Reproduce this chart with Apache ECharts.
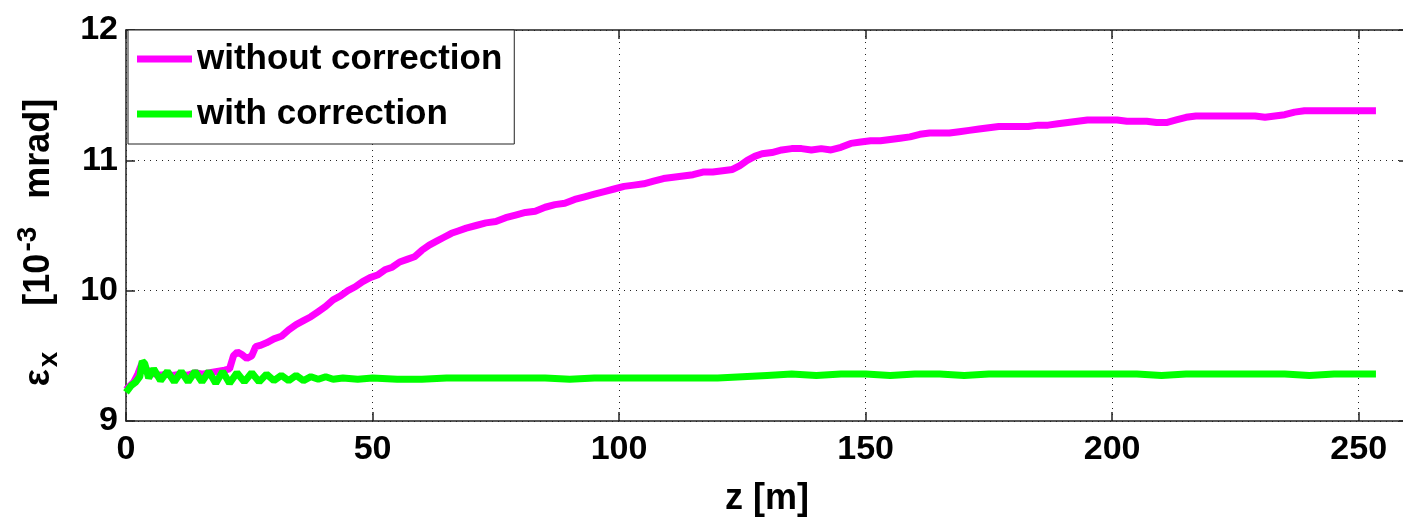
<!DOCTYPE html>
<html>
<head>
<meta charset="utf-8">
<script src="https://cdn.jsdelivr.net/npm/echarts@6/dist/echarts.min.js"></script>
<style>
  html, body { margin: 0; padding: 0; background: #fff; }
  #chart { width: 1403px; height: 519px; }
</style>
</head>
<body>
<div id="chart"></div>
<script>
// Horizontal emittance along z, with and without correction
const seriesNames = ['without correction', 'with correction'];

const zWithout = [0, 0.8, 1.6, 2.4, 3.2, 4.0, 5.0, 6.0, 7.0, 8.0, 9.5, 11, 12.5, 14, 15.5, 17, 18.5, 20,
  21, 21.8, 22.6, 23.5, 24.5, 25.5, 26.3, 27.2, 28.5, 30, 31.5, 33, 34.5, 36, 37.5, 39, 40.5, 42, 43.5,
  45, 46.5, 48, 49.5, 51, 52.5, 54, 55.5, 57, 58.5, 60, 61.5, 63, 64.5, 66, 67.5, 69, 71, 73, 75, 77,
  79, 81, 83, 85, 87, 89, 91, 93, 95, 97, 99, 101, 103, 105, 107, 109, 111, 113, 115, 117, 119, 121,
  123, 124.5, 126, 127.5, 129, 131, 133, 135, 137, 139, 141, 143, 145, 147, 149, 151, 153, 155, 157,
  159, 161, 163, 165, 167, 169, 171, 173, 175, 177, 179, 181, 183, 185, 187, 189, 191, 193, 195, 197,
  199, 201, 203, 205, 207, 209, 211, 213, 215, 217, 219, 221, 223, 225, 227, 229, 231, 233, 235, 237,
  239, 241, 243, 245, 247, 249, 251, 253.5];
const epsWithout = [9.24, 9.27, 9.30, 9.36, 9.44, 9.40, 9.37, 9.36, 9.35, 9.36, 9.35, 9.36, 9.35, 9.37, 9.36, 9.37, 9.38, 9.39,
  9.40, 9.50, 9.53, 9.51, 9.48, 9.50, 9.57, 9.58, 9.60, 9.63, 9.65, 9.70, 9.74, 9.77, 9.80, 9.84, 9.88, 9.93, 9.96,
  10.00, 10.03, 10.07, 10.10, 10.12, 10.16, 10.18, 10.22, 10.24, 10.26, 10.31, 10.35, 10.38, 10.41, 10.44, 10.46, 10.48, 10.50, 10.52, 10.53, 10.56,
  10.58, 10.60, 10.61, 10.64, 10.66, 10.67, 10.70, 10.72, 10.74, 10.76, 10.78, 10.80, 10.81, 10.82, 10.84, 10.86, 10.87, 10.88, 10.89, 10.91, 10.91, 10.92,
  10.93, 10.96, 11.00, 11.03, 11.05, 11.06, 11.08, 11.09, 11.09, 11.08, 11.09, 11.08, 11.10, 11.13, 11.14, 11.15, 11.15, 11.16, 11.17,
  11.18, 11.20, 11.21, 11.21, 11.21, 11.22, 11.23, 11.24, 11.25, 11.26, 11.26, 11.26, 11.26, 11.27, 11.27, 11.28, 11.29, 11.30, 11.31, 11.31,
  11.31, 11.31, 11.30, 11.30, 11.30, 11.29, 11.29, 11.31, 11.33, 11.34, 11.34, 11.34, 11.34, 11.34, 11.34, 11.34, 11.33, 11.34, 11.35, 11.37,
  11.38, 11.38, 11.38, 11.38, 11.38, 11.38, 11.38, 11.38];

const zWith = [0, 1, 2, 2.8, 3.3, 3.8, 4.6, 5.6, 7, 8.4, 9.8, 11.2, 12.6, 14, 15.4, 16.8, 18.2, 19.6, 21,
  22.5, 24, 25.5, 27, 28.5, 30, 31.5, 33, 34.5, 36, 37.5, 39, 40.5, 42, 44, 47, 50, 55, 60, 65, 70, 75,
  80, 85, 90, 95, 100, 105, 110, 115, 120, 125, 130, 135, 140, 145, 150, 155, 160, 165, 170, 175, 180,
  185, 190, 195, 200, 205, 210, 215, 220, 225, 230, 235, 240, 245, 250, 253.5];
const epsWith = [9.22, 9.27, 9.30, 9.34, 9.46, 9.44, 9.33, 9.40, 9.31, 9.38, 9.30, 9.38, 9.30, 9.38, 9.30, 9.38, 9.29, 9.38, 9.29,
  9.37, 9.30, 9.37, 9.30, 9.36, 9.31, 9.35, 9.31, 9.35, 9.31, 9.34, 9.32, 9.34, 9.32, 9.33, 9.32, 9.33, 9.32, 9.32, 9.33, 9.33, 9.33,
  9.33, 9.33, 9.32, 9.33, 9.33, 9.33, 9.33, 9.33, 9.33, 9.34, 9.35, 9.36, 9.35, 9.36, 9.36, 9.35, 9.36, 9.36, 9.35, 9.36, 9.36,
  9.36, 9.36, 9.36, 9.36, 9.36, 9.35, 9.36, 9.36, 9.36, 9.36, 9.36, 9.35, 9.36, 9.36, 9.36];

const zTicks = [0, 50, 100, 150, 200, 250];
const epsTicks = [9, 10, 11, 12];

const pairs = (xs, ys) => xs.map((x, i) => [x, ys[i]]);

const textFont = '"Liberation Sans", Arial, sans-serif';

const chart = echarts.init(document.getElementById('chart'), null, { renderer: 'canvas' });

const gridLine = { show: true, lineStyle: { color: '#222', width: 1, type: [1, 5] } };
const frameLine = { show: true, onZero: false, lineStyle: { color: '#222', width: 1.5 } };
const innerTick = { show: true, inside: true, length: 9, lineStyle: { color: '#222', width: 1.5 } };

chart.setOption({
  animation: false,
  backgroundColor: '#fff',
  grid: { left: 126, top: 30, right: -5, bottom: 98, containLabel: false, outerBoundsMode: 'none' },
  legend: {
    orient: 'vertical',
    left: 128,
    top: 30,
    data: seriesNames,
    icon: 'rect',
    itemWidth: 55,
    itemHeight: 7,
    itemGap: 15,
    padding: [9, 12, 10, 9],
    backgroundColor: '#fff',
    borderColor: '#222',
    borderWidth: 1,
    borderRadius: 0,
    textStyle: { fontFamily: textFont, fontWeight: 'bold', fontSize: 35, color: '#000', lineHeight: 40 }
  },
  xAxis: [{
    type: 'value',
    min: 0, max: 260, interval: 50,
    name: 'z [m]',
    nameLocation: 'middle',
    nameGap: 60,
    nameTextStyle: { fontFamily: textFont, fontWeight: 'bold', fontSize: 36, color: '#000' },
    axisLine: frameLine,
    axisTick: innerTick,
    axisLabel: {
      fontFamily: textFont, fontWeight: 'bold', fontSize: 34, color: '#000', margin: 12,
      showMaxLabel: false,
      formatter: v => (zTicks.indexOf(v) >= 0 ? String(v) : '')
    },
    splitLine: gridLine
  }, {
    type: 'value',
    position: 'top',
    min: 0, max: 260, interval: 50,
    axisLine: frameLine,
    axisTick: innerTick,
    axisLabel: { show: false },
    splitLine: { show: false }
  }],
  yAxis: [{
    type: 'value',
    min: 9, max: 12, interval: 1,
    name: '{a|ε}{sub|x}{a|[10}{sup|-3}{a|mrad]}',
    nameLocation: 'middle',
    nameRotate: 90,
    nameGap: 62,
    nameTextStyle: {
      fontFamily: textFont, fontWeight: 'bold', fontSize: 36, color: '#000',
      padding: [0, 34, 0, 0],
      rich: {
        a: { fontFamily: textFont, fontWeight: 'bold', fontSize: 36, color: '#000' },
        sup: { fontFamily: textFont, fontWeight: 'bold', fontSize: 28, color: '#000', padding: [0, 28, 22, 2] },
        sub: { fontFamily: textFont, fontWeight: 'bold', fontSize: 28, color: '#000', padding: [20, 46, 0, 2] }
      }
    },
    axisLine: frameLine,
    axisTick: innerTick,
    axisLabel: {
      fontFamily: textFont, fontWeight: 'bold', fontSize: 34, color: '#000', margin: 8,
      formatter: v => (epsTicks.indexOf(v) >= 0 ? String(v) : '')
    },
    splitLine: gridLine
  }, {
    type: 'value',
    position: 'right',
    min: 9, max: 12, interval: 1,
    axisLine: frameLine,
    axisTick: innerTick,
    axisLabel: { show: false },
    splitLine: { show: false }
  }],
  series: [{
    name: seriesNames[0],
    type: 'line',
    data: pairs(zWithout, epsWithout),
    showSymbol: false,
    symbol: 'none',
    color: '#ff00ff',
    lineStyle: { color: '#ff00ff', width: 7 },
    z: 2
  }, {
    name: seriesNames[1],
    type: 'line',
    data: pairs(zWith, epsWith),
    showSymbol: false,
    symbol: 'none',
    color: '#00ff00',
    lineStyle: { color: '#00ff00', width: 7 },
    z: 3
  }]
});
</script>
</body>
</html>
